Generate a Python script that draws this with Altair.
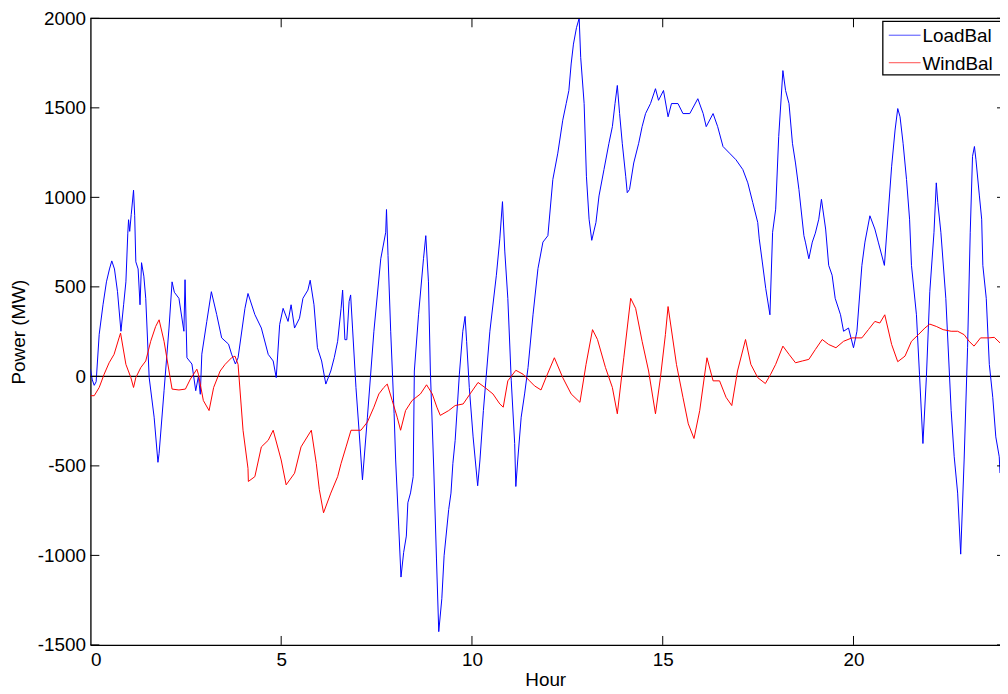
import altair as alt
import pandas as pd

# ---------------- data ----------------
series_names = ["LoadBal", "WindBal"]
series_colors = ["#0000ff", "#ff0000"]

load_hour = [0.0, 0.05, 0.1, 0.15, 0.23, 0.33, 0.42, 0.5, 0.56, 0.63, 0.71, 0.8, 0.87, 0.93, 0.98, 1.0, 1.03, 1.07, 1.13, 1.16,
             1.19, 1.25, 1.3, 1.34, 1.4, 1.45, 1.54, 1.67, 1.77, 1.8, 1.93, 2.06, 2.14, 2.2, 2.32, 2.45, 2.48, 2.53, 2.66, 2.76,
             2.83, 2.88, 2.92, 3.05, 3.17, 3.31, 3.44, 3.62, 3.7, 3.8, 3.87, 4.05, 4.13, 4.31, 4.48, 4.66, 4.79, 4.87, 4.96, 5.05,
             5.18, 5.26, 5.35, 5.48, 5.57, 5.7, 5.76, 5.86, 5.95, 6.06, 6.17, 6.3, 6.39, 6.48, 6.57, 6.61, 6.67, 6.72, 6.78, 6.82,
             6.87, 6.96, 7.04, 7.13, 7.26, 7.43, 7.61, 7.74, 7.76, 7.8, 7.87, 7.96, 8.0, 8.08, 8.14, 8.21, 8.28, 8.32, 8.39, 8.46,
             8.49, 8.6, 8.73, 8.79, 8.86, 8.91, 9.0, 9.07, 9.13, 9.21, 9.27, 9.39, 9.45, 9.5, 9.56, 9.67, 9.76, 9.82, 9.86, 9.93,
             10.03, 10.15, 10.21, 10.3, 10.47, 10.64, 10.73, 10.8, 10.86, 10.94, 11.03, 11.12, 11.15, 11.2, 11.29, 11.38, 11.47, 11.6, 11.73, 11.86,
             11.99, 12.12, 12.25, 12.38, 12.47, 12.54, 12.6, 12.66, 12.74, 12.81, 12.85, 12.94, 13.0, 13.07, 13.14, 13.25, 13.33, 13.46, 13.59, 13.68,
             13.75, 13.81, 13.87, 13.94, 14.03, 14.07, 14.13, 14.24, 14.37, 14.46, 14.55, 14.68, 14.81, 14.89, 15.02, 15.14, 15.23, 15.4, 15.53, 15.71,
             15.92, 16.06, 16.14, 16.32, 16.44, 16.58, 16.75, 16.92, 17.1, 17.23, 17.36, 17.49, 17.53, 17.61, 17.7, 17.81, 17.88, 17.96, 18.04, 18.15,
             18.22, 18.31, 18.4, 18.48, 18.57, 18.7, 18.74, 18.83, 18.92, 19.0, 19.09, 19.16, 19.27, 19.35, 19.44, 19.52, 19.66, 19.74, 19.87, 20.0,
             20.09, 20.22, 20.3, 20.43, 20.56, 20.65, 20.81, 21.0, 21.09, 21.16, 21.22, 21.3, 21.39, 21.47, 21.52, 21.65, 21.73, 21.82, 21.91, 22.0,
             22.11, 22.17, 22.21, 22.29, 22.42, 22.56, 22.64, 22.73, 22.81, 22.9, 22.99, 23.06, 23.12, 23.17, 23.21, 23.3, 23.36, 23.39, 23.48, 23.56,
             23.65, 23.73, 23.82, 23.84]
load_value = [40, -20, -50, -30, 235, 400, 528, 600, 645, 600, 473, 252, 400, 528, 800, 875, 810, 905, 1040, 900,
              640, 600, 400, 635, 560, 436, -7, -228, -480, -430, -80, 270, 528, 470, 436, 252, 540, 104, 69, -80,
              0, -100, 124, 307, 473, 345, 215, 180, 124, 69, 104, 380, 463, 345, 270, 123, 86, -7, 290, 380,
              307, 400, 270, 325, 436, 482, 537, 400, 160, 86, -43, 30, 104, 196, 380, 482, 205, 205, 418, 455,
              270, -62, -301, -578, -228, 252, 657, 805, 932, 676, 252, -208, -467, -836, -1121, -983, -892, -706, -651, -560,
              30, 344, 657, 786, 528, 30, -523, -1020, -1426, -1242, -1002, -744, -652, -486, -357, 12, 252, 335, 196, -62,
              -338, -611, -467, -191, 252, 565, 768, 976, 700, 436, -25, -375, -615, -467, -228, -98, 49, 344, 602, 750,
              786, 1100, 1247, 1431, 1524, 1597, 1745, 1856, 1948, 2000, 1782, 1524, 1118, 878, 760, 860, 1008, 1155, 1302, 1395,
              1524, 1625, 1468, 1302, 1118, 1026, 1044, 1192, 1302, 1395, 1468, 1524, 1607, 1542, 1597, 1450, 1524, 1524, 1468, 1468,
              1551, 1468, 1395, 1468, 1395, 1284, 1247, 1210, 1155, 1081, 971, 860, 768, 639, 491, 344, 805, 934, 1340, 1708,
              1597, 1524, 1302, 1192, 1044, 786, 750, 657, 750, 800, 878, 989, 823, 620, 565, 436, 344, 252, 270, 160,
              252, 620, 750, 897, 823, 750, 620, 1174, 1376, 1496, 1450, 1302, 1100, 878, 620, 344, 12, -375, -7, 473,
              805, 1081, 971, 805, 436, -191, -449, -652, -993, -467, 160, 805, 1229, 1284, 1210, 1008, 878, 620, 436, 67,
              -117, -338, -449, -540]

wind_hour = [0.0, 0.1, 0.23, 0.36, 0.49, 0.62, 0.75, 0.79, 0.93, 1.06, 1.13, 1.19, 1.32, 1.45, 1.58, 1.71, 1.8, 1.93, 2.06, 2.14,
             2.32, 2.49, 2.62, 2.79, 2.83, 2.96, 3.11, 3.23, 3.4, 3.53, 3.7, 3.79, 3.87, 4.0, 4.13, 4.14, 4.31, 4.48, 4.66, 4.79,
             5.0, 5.13, 5.35, 5.52, 5.79, 5.92, 6.0, 6.11, 6.3, 6.48, 6.57, 6.7, 6.83, 7.09, 7.26, 7.43, 7.56, 7.69, 7.78, 7.91,
             8.04, 8.13, 8.26, 8.43, 8.65, 8.81, 8.96, 9.08, 9.17, 9.39, 9.56, 9.77, 9.95, 10.16, 10.34, 10.55, 10.73, 10.82, 10.94, 11.15,
             11.34, 11.51, 11.64, 11.81, 11.94, 12.16, 12.38, 12.6, 12.83, 12.99, 13.16, 13.29, 13.5, 13.68, 13.81, 13.98, 14.16, 14.29, 14.46, 14.63,
             14.81, 14.94, 15.07, 15.14, 15.36, 15.53, 15.67, 15.82, 15.97, 16.16, 16.32, 16.49, 16.66, 16.81, 16.96, 17.17, 17.31, 17.49, 17.69, 17.83,
             17.96, 18.15, 18.31, 18.48, 18.66, 18.83, 19.0, 19.18, 19.35, 19.54, 19.74, 19.96, 20.22, 20.39, 20.56, 20.69, 20.82, 21.0, 21.16, 21.35,
             21.52, 21.7, 21.87, 22.0, 22.17, 22.35, 22.56, 22.73, 22.9, 23.03, 23.16, 23.33, 23.55, 23.69, 23.84]
wind_value = [-108, -108, -62, 12, 76, 123, 215, 242, 67, -7, -62, -7, 49, 86, 196, 279, 316, 196, 30, -71,
              -76, -71, -15, 40, 12, -135, -191, -62, 30, 67, 104, 113, 67, -301, -514, -587, -560, -394, -357, -301,
              -467, -606, -541, -394, -301, -486, -633, -762, -652, -560, -486, -394, -301, -301, -255, -172, -98, -62, -43, -135,
              -228, -301, -191, -135, -98, -47, -98, -172, -218, -191, -163, -154, -98, -34, -62, -98, -154, -172, -25, 34,
              12, -25, -53, -76, -7, 104, -7, -98, -145, 67, 261, 206, 49, -62, -209, 104, 436, 380, 196, 30,
              -209, -7, 233, 390, 67, -117, -265, -347, -191, 104, -25, -25, -117, -163, 30, 206, 67, -7, -40, 12,
              67, 169, 123, 76, 86, 95, 150, 206, 178, 160, 196, 215, 215, 261, 307, 298, 344, 178, 82, 113,
              196, 233, 270, 292, 279, 261, 252, 252, 233, 196, 169, 215, 215, 218, 187]

x_ticks = [0, 5, 10, 15, 20]
y_ticks = [-1500, -1000, -500, 0, 500, 1000, 1500, 2000]

# ---------------- tables ----------------
df = pd.concat([
    pd.DataFrame({"Hour": load_hour, "Power": load_value, "series": series_names[0], "order": range(len(load_hour))}),
    pd.DataFrame({"Hour": wind_hour, "Power": wind_value, "series": series_names[1], "order": range(len(wind_hour))}),
], ignore_index=True)

W, H = 916, 631
FONT = "Liberation Sans"
FS = 19

x_scale = alt.Scale(domain=[0, 23.84], nice=False, zero=False)
y_scale = alt.Scale(domain=[-1500, 2000], nice=False)

x_axis = alt.Axis(values=x_ticks, ticks=False, grid=False, domainColor="black", domainWidth=1.3,
                  labelExpr="'' + datum.value",
                  labelFont=FONT, labelFontSize=FS, labelColor="black", labelPadding=6,
                  titleFont=FONT, titleFontSize=FS, titleFontWeight="normal", titleColor="black", titlePadding=1)
y_axis = alt.Axis(values=y_ticks, ticks=False, grid=False, domainColor="black", domainWidth=1.3,
                  labelExpr="'' + datum.value",
                  labelFont=FONT, labelFontSize=FS, labelColor="black", labelPadding=5,
                  titleFont=FONT, titleFontSize=FS, titleFontWeight="normal", titleColor="black", titlePadding=9)

lines = alt.Chart(df).mark_line(strokeWidth=1, clip=True).encode(
    x=alt.X("Hour:Q", scale=x_scale, axis=x_axis, title="Hour"),
    y=alt.Y("Power:Q", scale=y_scale, axis=y_axis, title="Power (MW)"),
    color=alt.Color("series:N", scale=alt.Scale(domain=series_names, range=series_colors), legend=None),
    order="order:Q",
    detail="series:N",
)

zero_line = alt.Chart(pd.DataFrame({"y": [0]})).mark_rule(color="black", strokeWidth=1.4).encode(
    y=alt.Y("y:Q", scale=y_scale), x=alt.value(0), x2=alt.value(W))

top_border = alt.Chart(pd.DataFrame({"y": [0]})).mark_rule(color="black", strokeWidth=1.3).encode(
    y=alt.value(0), x=alt.value(0), x2=alt.value(W))

ydf = pd.DataFrame({"v": y_ticks})
xdf = pd.DataFrame({"v": x_ticks[1:]})
tick_style = dict(color="black", strokeWidth=1)
left_ticks = alt.Chart(ydf).mark_rule(**tick_style).encode(
    y=alt.Y("v:Q", scale=y_scale), x=alt.value(0), x2=alt.value(9))
right_ticks = alt.Chart(ydf).mark_rule(**tick_style).encode(
    y=alt.Y("v:Q", scale=y_scale), x=alt.value(W - 3), x2=alt.value(W))
top_ticks = alt.Chart(xdf).mark_rule(**tick_style).encode(
    x=alt.X("v:Q", scale=x_scale), y=alt.value(0), y2=alt.value(9))
bottom_ticks = alt.Chart(xdf).mark_rule(**tick_style).encode(
    x=alt.X("v:Q", scale=x_scale), y=alt.value(H - 9), y2=alt.value(H))

# ---------------- legend (MATLAB style box) ----------------
LX, LY, ROW = 798, 3, 27.7
legend_box = alt.Chart(pd.DataFrame({"a": [0]})).mark_rect(fill="white", stroke="black", strokeWidth=1.3).encode(
    x=alt.value(LX), x2=alt.value(LX + 140), y=alt.value(LY), y2=alt.value(LY + 54))
legend_layers = [legend_box]
for i, (name, col) in enumerate(zip(series_names, series_colors)):
    row = pd.DataFrame({"label": [name]})
    yy = LY + 14 + ROW * i
    legend_layers.append(alt.Chart(row).mark_rule(color=col, strokeWidth=1, opacity=0.7).encode(
        x=alt.value(LX + 6), x2=alt.value(LX + 38), y=alt.value(yy)))
    legend_layers.append(alt.Chart(row).mark_text(align="left", baseline="middle", font=FONT, fontSize=FS,
                                                  color="black").encode(
        x=alt.value(LX + 40), y=alt.value(yy + 1), text="label:N"))

chart = alt.layer(
    zero_line, lines, top_border, left_ticks, right_ticks, top_ticks, bottom_ticks, *legend_layers
).properties(
    width=W, height=H,
    autosize=alt.AutoSizeParams(type="none"),
    padding={"left": 83, "top": 8, "right": 0, "bottom": 43},
).configure_view(stroke=None).configure(background="white")

chart.save("out.html", embed_options={"renderer": "svg", "actions": False})
